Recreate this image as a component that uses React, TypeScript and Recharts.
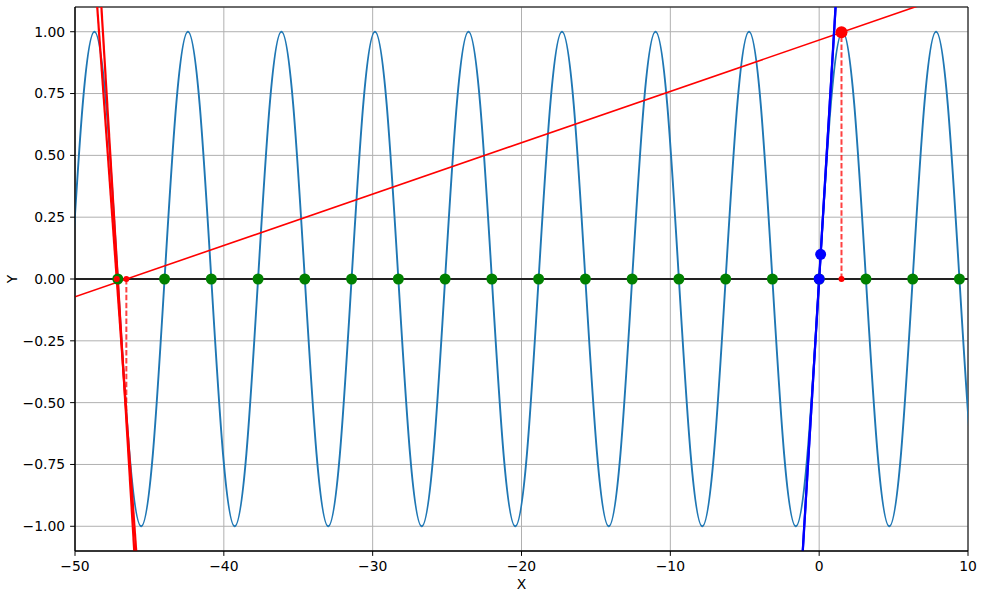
import {
  ComposedChart,
  Line,
  Scatter,
  XAxis,
  YAxis,
  CartesianGrid,
  ReferenceLine,
  ReferenceArea,
} from "recharts";

// sin(x) read at quarter-period steps (zeros, ±0.707, peaks/troughs)
const sineX = [
  -50.265, -49.48, -48.695, -47.909, -47.124, -46.338, -45.553, -44.768,
  -43.982, -43.197, -42.412, -41.626, -40.841, -40.055, -39.27, -38.485,
  -37.699, -36.914, -36.128, -35.343, -34.558, -33.772, -32.987, -32.201,
  -31.416, -30.631, -29.845, -29.06, -28.274, -27.489, -26.704, -25.918,
  -25.133, -24.347, -23.562, -22.777, -21.991, -21.206, -20.42, -19.635,
  -18.85, -18.064, -17.279, -16.493, -15.708, -14.923, -14.137, -13.352,
  -12.566, -11.781, -10.996, -10.21, -9.425, -8.639, -7.854, -7.069,
  -6.283, -5.498, -4.712, -3.927, -3.142, -2.356, -1.571, -0.785,
  0, 0.785, 1.571, 2.356, 3.142, 3.927, 4.712, 5.498,
  6.283, 7.069, 7.854, 8.639, 9.425, 10.21, 10.996, 11.781, 12.566,
];
const sineY = [
  0, 0.707, 1, 0.707, 0, -0.707, -1, -0.707,
  0, 0.707, 1, 0.707, 0, -0.707, -1, -0.707,
  0, 0.707, 1, 0.707, 0, -0.707, -1, -0.707,
  0, 0.707, 1, 0.707, 0, -0.707, -1, -0.707,
  0, 0.707, 1, 0.707, 0, -0.707, -1, -0.707,
  0, 0.707, 1, 0.707, 0, -0.707, -1, -0.707,
  0, 0.707, 1, 0.707, 0, -0.707, -1, -0.707,
  0, 0.707, 1, 0.707, 0, -0.707, -1, -0.707,
  0, 0.707, 1, 0.707, 0, -0.707, -1, -0.707,
  0, 0.707, 1, 0.707, 0, -0.707, -1, -0.707,
  0,
];

// roots of sin on the visible range
const rootX = [
  -47.124, -43.982, -40.841, -37.699, -34.558, -31.416, -28.274, -25.133,
  -21.991, -18.85, -15.708, -12.566, -9.425, -6.283, -3.142, 0, 3.142,
  6.283, 9.425,
];

// red run: start point, iterates, and the lines through them
const redStartX = [1.5];
const redStartY = [0.9975];
const redIterX = [1.5, -46.55, -47.196];
const redIterY = [0.9975, -0.543, 0.072];
const redLongX = [-50, 10];
const redLongY = [-0.072, 1.174];
const redTanAX = [-49, -45];
const redTanAY = [1.515, -1.845];
const redTanBX = [-49, -45];
const redTanBY = [1.871, -2.117];

// blue run
const blueX = [0.1, 0];
const blueY = [0.0998, 0];
const blueTanAX = [-1.5, 1.5];
const blueTanAY = [-1.493, 1.493];
const blueTanBX = [-1.5, 1.5];
const blueTanBY = [-1.5, 1.5];

const xTicks = [-50, -40, -30, -20, -10, 0, 10];
const yTicks = [-1, -0.75, -0.5, -0.25, 0, 0.25, 0.5, 0.75, 1];

const pts = (xs: number[], ys: number[]) => xs.map((x, i) => ({ x, y: ys[i] }));

const sineData = pts(sineX, sineY);
const rootData = rootX.map((x) => ({ x, y: 0 }));
const redStart = pts(redStartX, redStartY);
const redFeet = redIterX.map((x) => ({ x, y: 0 }));
const redDrops = redIterX.map((x, i) => [
  { x, y: 0 },
  { x, y: redIterY[i] },
]);
const blueData = pts(blueX, blueY);

const minus = (s: string) => s.replace("-", "\u2212");
const font = { fontFamily: "DejaVu Sans", fontSize: 13.9, fill: "#000" };

const dot = (r: number, fill: string) => (p: any) =>
  <circle cx={p.cx} cy={p.cy} r={r} fill={fill} />;

const YLabel = () => (
  <text x={12} y={279} transform="rotate(-90 12 279)" textAnchor="middle"
    dominantBaseline="central" {...font}>Y</text>
);

export default function App() {
  return (
    <div style={{ position: "absolute", left: 0, top: 0, background: "#fff" }}>
      <ComposedChart width={983} height={597}
        margin={{ top: 7, right: 15, bottom: 0, left: 0 }}>
        <CartesianGrid stroke="#b0b0b0" strokeWidth={1} />
        <XAxis dataKey="x" type="number" domain={[-50, 10]} ticks={xTicks}
          allowDataOverflow height={46} tickSize={4.9} tickMargin={4.9}
          tick={font} tickFormatter={(v) => minus(String(v))}
          axisLine={{ stroke: "#000" }} tickLine={{ stroke: "#000" }}
          label={{ value: "X", position: "insideBottom", offset: 8, ...font }} />
        <YAxis dataKey="y" type="number" domain={[-1.1, 1.1]} ticks={yTicks}
          allowDataOverflow width={75} tickSize={4.9} tickMargin={4.9}
          tick={font} tickFormatter={(v) => minus(Number(v).toFixed(2))}
          axisLine={{ stroke: "#000" }} tickLine={{ stroke: "#000" }}
          label={{ content: YLabel }} />
        <ReferenceArea x1={-50} x2={10} y1={-1.1} y2={1.1} fill="none"
          stroke="#000" strokeWidth={1} />
        <Line data={sineData} dataKey="y" type="natural" stroke="#1f77b4"
          strokeWidth={1.9} dot={false} isAnimationActive={false} />
        <ReferenceLine y={0} stroke="#222" strokeWidth={2} />
        <Scatter data={rootData} shape={dot(5.5, "#008000")} isAnimationActive={false} />
        <Line data={pts(redLongX, redLongY)} dataKey="y" stroke="#ff0000"
          strokeWidth={1.6} dot={false} isAnimationActive={false} />
        <Line data={pts(redTanAX, redTanAY)} dataKey="y" stroke="#ff0000"
          strokeWidth={2.2} dot={false} isAnimationActive={false} />
        <Line data={pts(redTanBX, redTanBY)} dataKey="y" stroke="#ff0000"
          strokeWidth={2.2} dot={false} isAnimationActive={false} />
        {redDrops.map((d, i) => (
          <Line key={i} data={d} dataKey="y" stroke="#ff0000" strokeOpacity={0.75}
            strokeWidth={2} strokeDasharray="5.5 2.4" dot={false}
            isAnimationActive={false} />
        ))}
        <Line data={pts(blueTanAX, blueTanAY)} dataKey="y" stroke="#0000ff"
          strokeWidth={2.2} dot={false} isAnimationActive={false} />
        <Line data={pts(blueTanBX, blueTanBY)} dataKey="y" stroke="#0000ff"
          strokeWidth={2.2} dot={false} isAnimationActive={false} />
        <Scatter data={redFeet} shape={dot(3, "#ff0000")} isAnimationActive={false} />
        <Scatter data={redStart} shape={dot(6, "#ff0000")} isAnimationActive={false} />
        <Scatter data={blueData} shape={dot(5.5, "#0000ff")} isAnimationActive={false} />
      </ComposedChart>
    </div>
  );
}
